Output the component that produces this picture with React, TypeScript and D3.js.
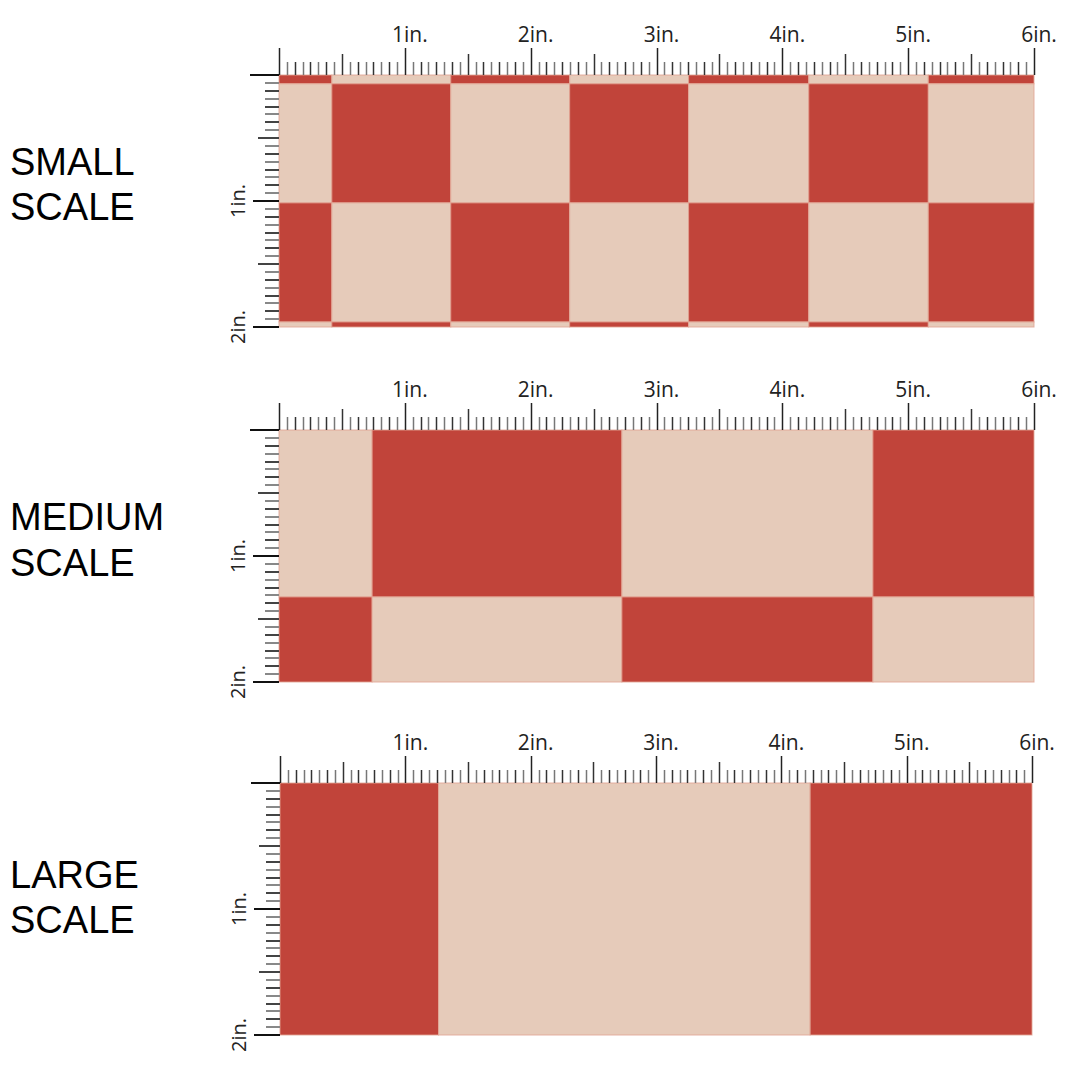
import React from "react";
import * as d3 from "d3";

// ---- data ----
const SCALE_NAMES: string[][] = [
  ["SMALL", "SCALE"],
  ["MEDIUM", "SCALE"],
  ["LARGE", "SCALE"],
];
const INCH_LABELS = ["1in.", "2in.", "3in.", "4in.", "5in.", "6in."];
const INCH_VALUES = [1, 2, 3, 4, 5, 6];
const SIDE_LABELS = ["1in.", "2in."];
const SIDE_VALUES = [1, 2];
const WIDTH_IN = 6;
const HEIGHT_IN = 2;
const SUBDIV = 16;

// column / row boundaries of the check pattern, in inches
const SMALL_COL_EDGES = [0, 0.42, 1.365, 2.31, 3.255, 4.21, 5.16, 6];
const SMALL_ROW_EDGES = [0, 0.07, 1.015, 1.96, 2];
const SMALL_FIRST_RED = 1;
const MEDIUM_COL_EDGES = [0, 0.74, 2.725, 4.72, 6];
const MEDIUM_ROW_EDGES = [0, 1.325, 2];
const MEDIUM_FIRST_RED = 0;
const LARGE_COL_EDGES = [0, 1.265, 4.23, 6];
const LARGE_ROW_EDGES = [0, 2];
const LARGE_FIRST_RED = 1;

const PANELS = [
  { names: SCALE_NAMES[0], cols: SMALL_COL_EDGES, rows: SMALL_ROW_EDGES, firstRed: SMALL_FIRST_RED },
  { names: SCALE_NAMES[1], cols: MEDIUM_COL_EDGES, rows: MEDIUM_ROW_EDGES, firstRed: MEDIUM_FIRST_RED },
  { names: SCALE_NAMES[2], cols: LARGE_COL_EDGES, rows: LARGE_ROW_EDGES, firstRed: LARGE_FIRST_RED },
];

// ---- layout ----
const PANEL_TOPS = [75, 430, 783];
const PANEL_X = [[279, 1034], [279, 1034], [280, 1032]];
const PANEL_H = 252;
const RED = "#C1443A";
const BEIGE = "#E6CBBA";
const TITLE_Y = [[175, 220], [530, 576], [888, 933]];

function Panel({ idx }: { idx: number }) {
  const p = PANELS[idx];
  const top = PANEL_TOPS[idx];
  const x = d3.scaleLinear().domain([0, WIDTH_IN]).range(PANEL_X[idx]);
  const y = d3.scaleLinear().domain([0, HEIGHT_IN]).range([top, top + PANEL_H]);
  const left = x(0);

  const cells: JSX.Element[] = [];
  for (let r = 0; r < p.rows.length - 1; r++) {
    for (let c = 0; c < p.cols.length - 1; c++) {
      const red = (r + c + p.firstRed) % 2 === 1;
      cells.push(
        <rect
          key={`${r}-${c}`}
          x={x(p.cols[c])}
          y={y(p.rows[r])}
          width={x(p.cols[c + 1]) - x(p.cols[c])}
          height={y(p.rows[r + 1]) - y(p.rows[r])}
          fill={red ? RED : BEIGE}
          stroke="#E2A494"
          strokeWidth={1}
          strokeOpacity={0.85}
        />
      );
    }
  }

  const topTicks = d3.range(0, WIDTH_IN * SUBDIV + 1).map((k) => {
    const len = k % 16 === 0 ? 27 : k % 8 === 0 ? 21 : 13;
    const xx = Math.round(x(k / SUBDIV)) + 0.5;
    const dark = k % 2 === 0;
    return (
      <line
        key={"t" + k}
        x1={xx}
        x2={xx}
        y1={top}
        y2={top - len}
        stroke={k % 16 === 0 ? "#222" : dark ? "#333" : "#777"}
        strokeWidth={1.5}
      />
    );
  });

  const sideTicks = d3.range(0, HEIGHT_IN * SUBDIV + 1).map((k) => {
    const len = k === 0 ? 29 : k % 16 === 0 ? 26 : k % 8 === 0 ? 21 : 14;
    const yy = Math.round(y(k / SUBDIV));
    const dark = k % 2 === 0;
    return (
      <line
        key={"s" + k}
        x1={left}
        x2={left - len}
        y1={yy}
        y2={yy}
        stroke={k % 16 === 0 ? "#111" : dark ? "#444" : "#888"}
        strokeWidth={2}
      />
    );
  });

  return (
    <g>
      {cells}
      {topTicks}
      {sideTicks}
      {INCH_VALUES.map((v, i) => (
        <text
          key={"l" + v}
          x={x(v) + 5}
          y={top - 33}
          textAnchor="middle"
          fontFamily="'Open Sans', 'Noto Sans', sans-serif"
          fontSize={21}
          fill="#222"
        >
          {INCH_LABELS[i]}
        </text>
      ))}
      {SIDE_VALUES.map((v, i) => (
        <text
          key={"v" + v}
          transform={`translate(${left - 34},${y(v)}) rotate(-90)`}
          textAnchor="middle"
          fontFamily="'Open Sans', 'Noto Sans', sans-serif"
          fontSize={20}
          fill="#222"
        >
          {SIDE_LABELS[i]}
        </text>
      ))}
      {p.names.map((n, i) => (
        <text
          key={"n" + i}
          x={10}
          y={TITLE_Y[idx][i]}
          fontFamily="'Liberation Sans', Arial, sans-serif"
          fontSize={38}
          fill="#000"
        >
          {n}
        </text>
      ))}
    </g>
  );
}

export default function App() {
  return (
    <div style={{ position: "absolute", left: 0, top: 0 }}>
      <svg width={1080} height={1080} style={{ display: "block", background: "#fff" }}>
        <rect width={1080} height={1080} fill="#fff" />
        {PANELS.map((_, i) => (
          <Panel key={i} idx={i} />
        ))}
      </svg>
    </div>
  );
}
